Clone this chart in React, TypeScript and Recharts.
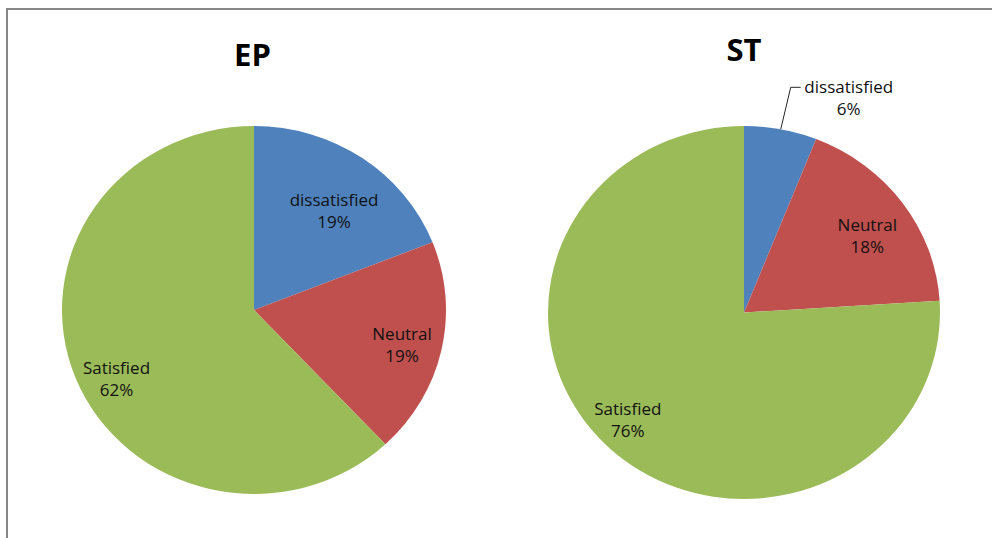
import React from 'react';
import { PieChart, Pie, Cell, Sector } from 'recharts';

// Survey answers for the two groups
const categories = ['dissatisfied', 'Neutral', 'Satisfied'];
const epValues = [19, 19, 62];
const stValues = [6, 18, 76];
const chartTitles = ['EP', 'ST'];
const sliceColors = ['#4F81BD', '#C0504D', '#9BBB59'];

const FONT = '"Open Sans", "Liberation Sans", sans-serif';
const RAD = Math.PI / 180;

type PieLayout = {
  cx: number;
  cy: number;
  r: number; // vertical radius
  sx: number; // horizontal stretch
  titleY: number;
  labelRadius: number[]; // fraction of radius where inside labels sit
  labelShift: number[]; // clockwise shift of inside labels, degrees
  outside: boolean[]; // labels placed outside with a leader line
};

const layouts: PieLayout[] = [
  {
    cx: 254, cy: 310, r: 184, sx: 192 / 184, titleY: 66,
    labelRadius: [0.683, 0.793, 0.806], labelShift: [3.4, 0.9, -5.7],
    outside: [false, false, false],
  },
  {
    cx: 744, cy: 312.5, r: 186.5, sx: 196 / 186.5, titleY: 61,
    labelRadius: [1, 0.753, 0.824], labelShift: [0, 2.7, 2.8],
    outside: [true, false, false],
  },
];

const toRows = (values: number[]) => categories.map((name, i) => ({ name, value: values[i] }));

const makeShape = (sx: number) => (props: any) => {
  const { cx, fill } = props;
  return (
    <g transform={`translate(${cx} 0) scale(${sx} 1) translate(${-cx} 0)`}>
      <Sector {...props} fill={fill} stroke="none" />
    </g>
  );
};

const labelText = (x: number, y: number, s: string) => (
  <text x={x} y={y} textAnchor="middle" fontFamily={FONT} fontSize={17} fill="#111">{s}</text>
);

const makeLabel = (layout: PieLayout) => (props: any) => {
  const { midAngle, percent, name, index } = props;
  const { cx, cy, r, sx } = layout;
  const pct = `${Math.round(percent * 100)}%`;
  if (layout.outside[index]) {
    const ex = cx + r * sx * Math.cos(midAngle * RAD);
    const ey = cy - r * Math.sin(midAngle * RAD);
    const bx = ex + 10;
    const by = ey - 42;
    const hx = bx + 10;
    const tx = hx + 48;
    return (
      <g>
        <polyline points={`${ex},${ey} ${bx},${by} ${hx},${by}`} fill="none" stroke="#262626" strokeWidth={1} />
        {labelText(tx, by + 6, name)}
        {labelText(tx, by + 28, pct)}
      </g>
    );
  }
  const a = (midAngle - layout.labelShift[index]) * RAD;
  const f = layout.labelRadius[index];
  const lx = cx + r * f * sx * Math.cos(a);
  const ly = cy - r * f * Math.sin(a);
  return (
    <g>
      {labelText(lx, ly - 4.5, name)}
      {labelText(lx, ly + 17.5, pct)}
    </g>
  );
};

export default function App() {
  const series = [epValues, stValues];
  return (
    <div style={{ position: 'absolute', left: 0, top: 0, width: 992, height: 538, background: '#fff' }}>
      <PieChart width={992} height={538} margin={{ top: 0, right: 0, bottom: 0, left: 0 }}>
        <rect x={7} y={9} width={1100} height={700} fill="none" stroke="#878787" strokeWidth={2} />
        {series.map((values, k) => {
          const layout = layouts[k];
          return (
            <Pie
              key={chartTitles[k]}
              data={toRows(values)}
              dataKey="value"
              nameKey="name"
              cx={layout.cx}
              cy={layout.cy}
              innerRadius={0}
              outerRadius={layout.r}
              startAngle={90}
              endAngle={-270}
              stroke="none"
              isAnimationActive={false}
              labelLine={false}
              label={makeLabel(layout)}
              shape={makeShape(layout.sx)}
            >
              {values.map((_, i) => (
                <Cell key={categories[i]} fill={sliceColors[i]} />
              ))}
            </Pie>
          );
        })}
        {chartTitles.map((t, k) => (
          <text
            key={t}
            x={layouts[k].cx - (k === 0 ? 1.5 : 0)}
            y={layouts[k].titleY}
            textAnchor="middle"
            fontFamily={FONT}
            fontWeight={700}
            fontSize={31}
            fill="#000"
          >
            {t}
          </text>
        ))}
      </PieChart>
    </div>
  );
}
